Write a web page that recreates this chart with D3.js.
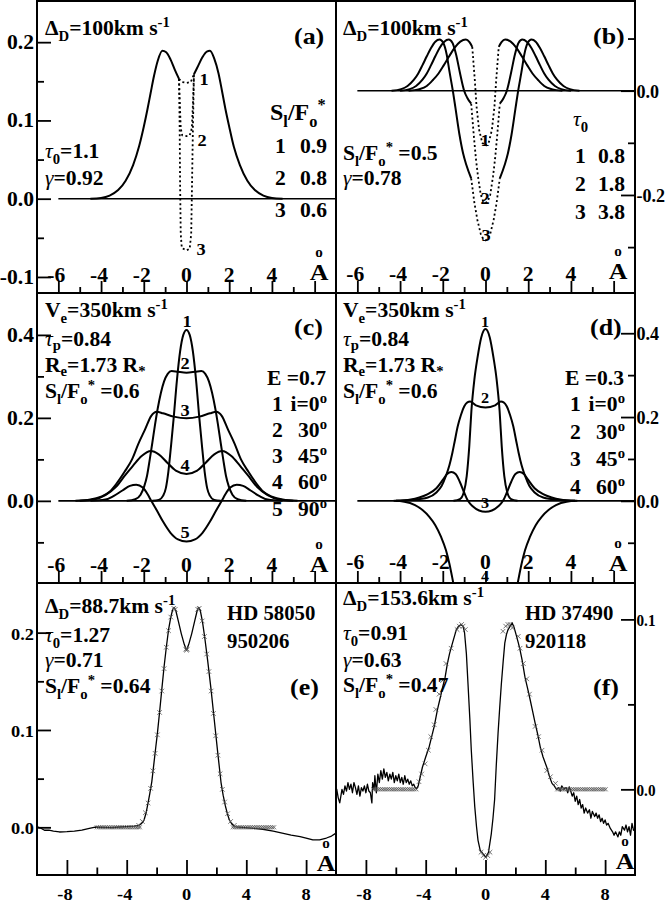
<!DOCTYPE html>
<html>
<head>
<meta charset="utf-8">
<script src="https://cdn.jsdelivr.net/npm/d3@7"></script>
<style>
  body { margin: 0; background: #fff; }
  svg { display: block; }
</style>
</head>
<body>
<div id="chart"></div>
<script>
// ---- data ----
// x ticks, top two rows (Angstrom, -7..7) and bottom row (-10..10)
var xMajorTop = [-6, -4, -2, 0, 2, 4, 6];
var xMinorTop = [-5, -3, -1, 1, 3, 5];
var xLabelsTop = ["-6", "-4", "-2", "0", "2", "4", ""];
var xMajorBot = [-8, -4, 0, 4, 8];
var xMinorBot = [-6, -2, 2, 6];
var xLabelsBot = ["-8", "-4", "0", "4", "8"];

// y ticks per panel
var aYMajor = [-0.1, 0, 0.1, 0.2], aYMinor = [-0.05, 0.05, 0.15], aYLabels = ["-0.1", "0.0", "0.1", "0.2"];
var bYMajor = [-0.2, 0], bYMinor = [-0.3, -0.1, 0.1], bYLabels = ["-0.2", "0.0"];
var cYMajor = [0, 0.2, 0.4], cYMinor = [-0.1, 0.1, 0.3], cYLabels = ["0.0", "0.2", "0.4"];
var eYMajor = [0, 0.1, 0.2], eYMinor = [0.05, 0.15], eYLabels = ["0.0", "0.1", "0.2"];
var fYMajor = [0, 0.1], fYMinor = [0.05], fYLabels = ["0.0", "0.1"];

// (a) S_l/F_o* = 0.9, 0.8, 0.6 : common wings (solid) + centres (dotted)
var aWingL = [[-4.5,0],[-4.0,0.001],[-3.6,0.004],[-3.2,0.011],[-2.85,0.023],[-2.5,0.043],[-2.22,0.067],[-2.0,0.092],[-1.83,0.114],[-1.68,0.135],[-1.52,0.157],[-1.35,0.176],[-1.13,0.189],[-0.95,0.187],[-0.75,0.178],[-0.55,0.165],[-0.35,0.153]];
var aWingR = [[0.35,0.159],[0.55,0.17],[0.75,0.181],[0.95,0.188],[1.1,0.189],[1.3,0.179],[1.5,0.16],[1.66,0.138],[1.82,0.115],[2.0,0.092],[2.22,0.066],[2.5,0.043],[2.85,0.023],[3.2,0.011],[3.6,0.004],[4.0,0.001],[4.5,0]];
var aCore1 = [[-0.35,0.153],[-0.2,0.149],[0,0.148],[0.2,0.149],[0.35,0.159]];
var aCore2 = [[-0.35,0.153],[-0.31,0.12],[-0.27,0.09],[-0.2,0.081],[0,0.08],[0.15,0.081],[0.25,0.09],[0.3,0.12],[0.35,0.159]];
var aCore3 = [[-0.35,0.153],[-0.32,0.09],[-0.3,0.02],[-0.27,-0.045],[-0.22,-0.063],[0,-0.066],[0.15,-0.064],[0.22,-0.045],[0.26,0.02],[0.3,0.09],[0.35,0.159]];

// (b) tau0 = 0.8, 1.8, 3.8
var b1L = [[-3.6,0],[-3.1,0.003],[-2.75,0.009],[-2.45,0.021],[-2.2,0.033],[-1.95,0.049],[-1.7,0.066],[-1.45,0.082],[-1.18,0.094],[-0.92,0.098],[-0.75,0.093],[-0.62,0.084]];
var b1R = [[0.62,0.084],[0.75,0.093],[0.92,0.098],[1.18,0.094],[1.45,0.082],[1.7,0.066],[1.95,0.049],[2.2,0.033],[2.45,0.021],[2.75,0.009],[3.1,0.003],[3.6,0]];
var b1C = [[-0.62,0.084],[-0.5,0.02],[-0.42,-0.03],[-0.3,-0.075],[-0.15,-0.1],[0,-0.106],[0.15,-0.1],[0.3,-0.075],[0.42,-0.03],[0.5,0.02],[0.62,0.084]];
var b2L = [[-4.0,0],[-3.55,0.003],[-3.25,0.009],[-2.95,0.021],[-2.75,0.033],[-2.55,0.049],[-2.35,0.066],[-2.15,0.082],[-1.93,0.094],[-1.72,0.098],[-1.55,0.092],[-1.38,0.07],[-1.2,0.035],[-1.0,0.0],[-0.85,-0.014],[-0.67,-0.025]];
var b2R = [[0.67,-0.025],[0.85,-0.014],[1.0,0.0],[1.2,0.035],[1.38,0.07],[1.55,0.092],[1.72,0.098],[1.93,0.094],[2.15,0.082],[2.35,0.066],[2.55,0.049],[2.75,0.033],[2.95,0.021],[3.25,0.009],[3.55,0.003],[4.0,0]];
var b2C = [[-0.67,-0.025],[-0.55,-0.085],[-0.45,-0.13],[-0.35,-0.165],[-0.22,-0.2],[-0.1,-0.213],[0,-0.215],[0.1,-0.213],[0.22,-0.2],[0.35,-0.165],[0.45,-0.13],[0.55,-0.085],[0.67,-0.025]];
var b3L = [[-4.4,0],[-3.95,0.003],[-3.65,0.009],[-3.35,0.021],[-3.15,0.033],[-2.95,0.049],[-2.75,0.066],[-2.55,0.082],[-2.35,0.094],[-2.15,0.098],[-1.98,0.092],[-1.82,0.07],[-1.68,0.035],[-1.53,0.0],[-1.4,-0.035],[-1.22,-0.084],[-1.05,-0.12],[-0.9,-0.142],[-0.67,-0.168]];
var b3R = [[0.67,-0.168],[0.9,-0.142],[1.05,-0.12],[1.22,-0.084],[1.4,-0.035],[1.53,0.0],[1.68,0.035],[1.82,0.07],[1.98,0.092],[2.15,0.098],[2.35,0.094],[2.55,0.082],[2.75,0.066],[2.95,0.049],[3.15,0.033],[3.35,0.021],[3.65,0.009],[3.95,0.003],[4.4,0]];
var b3C = [[-0.67,-0.168],[-0.52,-0.215],[-0.38,-0.248],[-0.22,-0.275],[-0.1,-0.285],[0,-0.287],[0.1,-0.285],[0.22,-0.275],[0.38,-0.248],[0.52,-0.215],[0.67,-0.168]];

// (c) E = 0.7, i = 0, 30, 45, 60, 90 deg
var c1 = [[-1.6,0],[-1.3,0.002],[-1.1,0.012],[-0.97,0.03],[-0.85,0.07],[-0.72,0.135],[-0.6,0.2],[-0.45,0.29],[-0.3,0.36],[-0.15,0.4],[0,0.412],[0.15,0.4],[0.3,0.36],[0.45,0.29],[0.6,0.2],[0.72,0.135],[0.85,0.07],[0.97,0.03],[1.1,0.012],[1.3,0.002],[1.6,0]];
var c2 = [[-2.8,0],[-2.4,0.004],[-2.15,0.015],[-1.98,0.035],[-1.85,0.06],[-1.72,0.1],[-1.6,0.14],[-1.47,0.185],[-1.35,0.222],[-1.2,0.26],[-1.05,0.288],[-0.88,0.306],[-0.7,0.313],[-0.4,0.311],[0,0.309],[0.4,0.311],[0.7,0.313],[0.88,0.306],[1.05,0.288],[1.2,0.26],[1.35,0.222],[1.47,0.185],[1.6,0.14],[1.72,0.1],[1.85,0.06],[1.98,0.035],[2.15,0.015],[2.4,0.004],[2.8,0]];
var c3 = [[-5.2,0],[-4.5,0.003],[-4.0,0.01],[-3.6,0.022],[-3.3,0.04],[-2.9,0.07],[-2.55,0.1],[-2.25,0.138],[-1.95,0.171],[-1.65,0.205],[-1.4,0.215],[-1.1,0.211],[-0.6,0.203],[0,0.199],[0.6,0.203],[1.1,0.211],[1.4,0.215],[1.65,0.205],[1.95,0.171],[2.25,0.138],[2.55,0.1],[2.9,0.07],[3.3,0.04],[3.6,0.022],[4.0,0.01],[4.5,0.003],[5.2,0]];
var c4 = [[-5.0,0],[-4.3,0.004],[-3.8,0.014],[-3.3,0.034],[-2.9,0.06],[-2.5,0.085],[-2.1,0.108],[-1.67,0.12],[-1.3,0.112],[-0.9,0.092],[-0.5,0.073],[0,0.065],[0.5,0.073],[0.9,0.092],[1.3,0.112],[1.67,0.12],[2.1,0.108],[2.5,0.085],[2.9,0.06],[3.3,0.034],[3.8,0.014],[4.3,0.004],[5.0,0]];
var c5 = [[-4.5,0],[-3.8,0.003],[-3.4,0.012],[-3.0,0.025],[-2.65,0.036],[-2.35,0.039],[-2.05,0.032],[-1.82,0.016],[-1.65,0],[-1.4,-0.022],[-1.1,-0.05],[-0.75,-0.077],[-0.4,-0.093],[0,-0.098],[0.4,-0.093],[0.75,-0.077],[1.1,-0.05],[1.4,-0.022],[1.65,0],[1.82,0.016],[2.05,0.032],[2.35,0.039],[2.65,0.036],[3.0,0.025],[3.4,0.012],[3.8,0.003],[4.5,0]];

// (d) E = 0.3, i = 0, 30, 45, 60 deg
var d1 = [[-1.5,0],[-1.2,0.004],[-1.02,0.02],[-0.88,0.059],[-0.76,0.13],[-0.66,0.215],[-0.52,0.29],[-0.38,0.34],[-0.2,0.39],[0,0.41],[0.2,0.39],[0.38,0.34],[0.52,0.29],[0.66,0.215],[0.76,0.13],[0.88,0.059],[1.02,0.02],[1.2,0.004],[1.5,0]];
var d2 = [[-4.2,0],[-3.5,0.002],[-2.7,0.008],[-2.3,0.02],[-2.05,0.036],[-1.85,0.06],[-1.69,0.085],[-1.55,0.115],[-1.45,0.14],[-1.3,0.178],[-1.15,0.205],[-1.0,0.225],[-0.85,0.235],[-0.72,0.237],[-0.45,0.228],[0,0.223],[0.45,0.228],[0.72,0.237],[0.85,0.235],[1.0,0.225],[1.15,0.205],[1.3,0.178],[1.45,0.14],[1.55,0.115],[1.69,0.085],[1.85,0.06],[2.05,0.036],[2.3,0.02],[2.7,0.008],[3.5,0.002],[4.2,0]];
var d3v = [[-4.2,0],[-3.5,0.003],[-3.1,0.008],[-2.7,0.016],[-2.3,0.03],[-2.0,0.05],[-1.8,0.064],[-1.6,0.069],[-1.4,0.064],[-1.2,0.045],[-1.0,0.02],[-0.82,0],[-0.6,-0.013],[-0.3,-0.023],[0,-0.026],[0.3,-0.023],[0.6,-0.013],[0.82,0],[1.0,0.02],[1.2,0.045],[1.4,0.064],[1.6,0.069],[1.8,0.064],[2.0,0.05],[2.3,0.03],[2.7,0.016],[3.1,0.008],[3.5,0.003],[4.2,0]];
var d4 = [[-4.3,0],[-3.8,-0.002],[-3.3,-0.01],[-2.95,-0.022],[-2.63,-0.038],[-2.35,-0.058],[-2.08,-0.086],[-1.85,-0.118],[-1.69,-0.15],[-1.55,-0.185],[-1.42,-0.22],[-1.2,-0.28],[-0.9,-0.33],[-0.5,-0.36],[0,-0.37],[0.5,-0.36],[0.9,-0.33],[1.2,-0.28],[1.42,-0.22],[1.55,-0.185],[1.69,-0.15],[1.85,-0.118],[2.08,-0.086],[2.35,-0.058],[2.63,-0.038],[2.95,-0.022],[3.3,-0.01],[3.8,-0.002],[4.3,0]];

// (e) HD 58050, observed (line) and model (crosses)
var eObs = [[-10.05,0.001],[-9.8,-0.0005],[-9.5,-0.003],[-9.2,-0.003],[-8.9,-0.004],[-8.5,-0.0048],[-8.0,-0.0045],[-7.5,-0.004],[-7.0,-0.003],[-6.5,-0.0012],[-6.1,0.0003],[-5.5,0.0],[-5.0,-0.0003],[-4.5,0.0003],[-4.0,0.0008],[-3.5,0.0012],[-3.2,0.002],[-3.0,0.004],[-2.84,0.0075],[-2.7,0.015],[-2.57,0.025],[-2.45,0.035],[-2.32,0.047],[-2.17,0.067],[-2.05,0.083],[-1.95,0.096],[-1.79,0.12],[-1.65,0.142],[-1.5,0.165],[-1.35,0.185],[-1.2,0.203],[-1.05,0.216],[-0.92,0.224],[-0.83,0.226],[-0.72,0.223],[-0.55,0.212],[-0.35,0.199],[-0.15,0.188],[0,0.182],[0.15,0.188],[0.35,0.199],[0.55,0.212],[0.72,0.223],[0.81,0.226],[0.92,0.223],[1.07,0.211],[1.22,0.195],[1.41,0.172],[1.64,0.142],[1.86,0.11],[2.08,0.078],[2.31,0.046],[2.45,0.033],[2.6,0.022],[2.75,0.013],[2.87,0.0075],[3.05,0.003],[3.3,0.0005],[3.7,0.0],[4.5,-0.001],[5.1,-0.002],[5.8,-0.004],[6.4,-0.006],[7.0,-0.008],[7.6,-0.0096],[8.0,-0.011],[8.45,-0.013],[8.9,-0.013],[9.36,-0.011],[9.7,-0.009],[10.0,-0.006]];
var eModel = [[-3.2,0.002],[-2.95,0.006],[-2.75,0.015],[-2.57,0.025],[-2.4,0.04],[-2.25,0.058],[-2.1,0.076],[-1.95,0.095],[-1.8,0.118],[-1.65,0.14],[-1.5,0.163],[-1.35,0.185],[-1.2,0.202],[-1.05,0.216],[-0.85,0.225],[-0.75,0.224],[-0.05,0.183],[0,0.182],[0.05,0.183],[0.75,0.224],[0.85,0.225],[1.05,0.212],[1.2,0.196],[1.35,0.178],[1.5,0.16],[1.65,0.14],[1.8,0.117],[1.95,0.094],[2.1,0.074],[2.25,0.055],[2.4,0.039],[2.55,0.026],[2.75,0.014],[2.95,0.006],[3.2,0.002]];
var eBandLevel = 0.0;
var eBandX = [-6.0,-5.88,-5.76,-5.64,-5.52,-5.4,-5.28,-5.16,-5.04,-4.92,-4.8,-4.68,-4.56,-4.44,-4.32,-4.2,-4.08,-3.96,-3.84,-3.72,-3.6,-3.48,-3.36,-3.24,-3.12,
              3.1,3.22,3.34,3.46,3.58,3.7,3.82,3.94,4.06,4.18,4.3,4.42,4.54,4.66,4.78,4.9,5.02,5.14,5.26,5.38,5.5,5.62,5.74,5.86];

// (f) HD 37490
var fObs = [[-10.1,-0.002],[-9.95,0.0],[-9.85,-0.005],[-9.75,-0.008],[-9.6,0.0],[-9.5,-0.003],[-9.4,0.002],[-9.3,-0.001],[-9.2,0.004],[-9.1,0.0],[-9.0,0.003],[-8.9,-0.002],[-8.8,0.004],[-8.7,0.001],[-8.6,-0.003],[-8.5,0.002],[-8.4,-0.004],[-8.3,0.001],[-8.2,-0.001],[-8.1,0.002],[-8.0,-0.002],[-7.9,0.003],[-7.8,-0.001],[-7.7,-0.002],[-7.6,-0.008],[-7.55,0.004],[-7.45,0.0],[-7.4,0.008],[-7.3,-0.002],[-7.2,0.009],[-7.1,0.004],[-7.0,0.011],[-6.9,0.006],[-6.8,0.012],[-6.7,0.007],[-6.6,0.01],[-6.5,0.005],[-6.4,0.009],[-6.3,0.006],[-6.2,0.01],[-6.1,0.004],[-6.0,0.008],[-5.9,0.005],[-5.8,0.009],[-5.7,0.004],[-5.6,0.007],[-5.5,0.003],[-5.4,0.008],[-5.3,0.004],[-5.2,0.006],[-5.1,0.003],[-5.0,0.005],[-4.9,0.002],[-4.8,0.003],[-4.7,0.001],[-4.6,0.0005],[-4.5,0.002],[-4.35,0.008],[-4.22,0.013],[-4.0,0.019],[-3.77,0.025],[-3.6,0.031],[-3.43,0.037],[-3.21,0.047],[-3.05,0.053],[-2.87,0.06],[-2.7,0.066],[-2.55,0.074],[-2.4,0.08],[-2.21,0.086],[-1.95,0.094],[-1.8,0.096],[-1.63,0.097],[-1.5,0.096],[-1.4,0.092],[-1.28,0.08],[-1.17,0.062],[-1.05,0.042],[-0.95,0.023],[-0.83,0.005],[-0.72,-0.01],[-0.6,-0.022],[-0.5,-0.03],[-0.35,-0.036],[-0.16,-0.038],[0.04,-0.04],[0.2,-0.037],[0.39,-0.026],[0.5,-0.017],[0.61,-0.006],[0.72,0.014],[0.84,0.033],[0.95,0.048],[1.06,0.062],[1.18,0.075],[1.29,0.086],[1.4,0.091],[1.51,0.094],[1.65,0.096],[1.78,0.098],[1.92,0.095],[2.08,0.09],[2.2,0.086],[2.31,0.082],[2.45,0.076],[2.64,0.066],[2.8,0.06],[2.98,0.053],[3.15,0.046],[3.32,0.039],[3.5,0.032],[3.66,0.025],[3.85,0.019],[4.1,0.013],[4.3,0.007],[4.45,0.0035],[4.6,0.002],[4.75,0.0],[4.9,0.001],[5.0,-0.001],[5.1,0.002],[5.25,0.0],[5.4,0.001],[5.5,-0.002],[5.6,0.0015],[5.7,-0.001],[5.8,-0.004],[5.9,-0.002],[6.0,-0.007],[6.1,-0.004],[6.2,-0.009],[6.3,-0.006],[6.4,-0.011],[6.5,-0.009],[6.6,-0.014],[6.7,-0.011],[6.83,-0.014],[6.95,-0.012],[7.05,-0.017],[7.15,-0.013],[7.3,-0.016],[7.4,-0.014],[7.5,-0.017],[7.6,-0.015],[7.7,-0.019],[7.8,-0.017],[7.9,-0.02],[8.0,-0.018],[8.1,-0.021],[8.2,-0.02],[8.35,-0.023],[8.5,-0.025],[8.6,-0.027],[8.7,-0.025],[8.86,-0.028],[8.95,-0.025],[9.05,-0.027],[9.15,-0.022],[9.3,-0.024],[9.4,-0.021],[9.5,-0.025],[9.6,-0.022],[9.7,-0.027],[9.8,-0.02],[9.9,-0.024],[10.1,-0.025]];
var fModel = [[-4.45,0.0045],[-4.27,0.009],[-4.04,0.015],[-3.82,0.023],[-3.66,0.031],[-3.43,0.038],[-3.32,0.047],[-3.1,0.056],[-2.87,0.064],[-2.64,0.074],[-2.3,0.083],[-1.9,0.094],[-1.75,0.096],[-1.6,0.097],[-1.5,0.096],[-1.35,0.094],[-0.3,-0.037],[-0.15,-0.039],[0,-0.04],[0.15,-0.039],[0.3,-0.037],[1.17,0.093],[1.35,0.096],[1.5,0.097],[1.65,0.097],[1.8,0.095],[2.19,0.09],[2.31,0.083],[2.53,0.074],[2.76,0.065],[2.94,0.056],[3.32,0.037],[3.55,0.031],[3.78,0.023],[4.1,0.011],[4.34,0.0074],[4.68,0.0035]];
var fBandLevel = 0.0;
var fBandX = [-7.5,-7.38,-7.26,-7.14,-7.02,-6.9,-6.78,-6.66,-6.54,-6.42,-6.3,-6.18,-6.06,-5.94,-5.82,-5.7,-5.58,-5.46,-5.34,-5.22,-5.1,-4.98,-4.86,-4.74,-4.62,
              4.8,4.92,5.04,5.16,5.28,5.4,5.52,5.64,5.76,5.88,6.0,6.12,6.24,6.36,6.48,6.6,6.72,6.84,6.96,7.08,7.2,7.32,7.44,7.56,7.68,7.8,7.92,8.04];

// ---- drawing ----
var W = 666, H = 909;
var SX = 1.08;
var FONT = "'Liberation Serif','Times New Roman',serif";

var svg = d3.select("#chart").append("svg").attr("width", W).attr("height", H);
svg.append("rect").attr("width", W).attr("height", H).attr("fill", "#fff");

// rich text: parts are strings or {t, sub, sup, it, lift}
function rich(g, x, y, parts, o) {
    o = o || {};
    var size = o.size || 20;
    var t = g.append("text")
        .attr("transform", "translate(" + x + "," + y + ") scale(" + (o.sx || SX) + ",1)")
        .attr("font-family", FONT)
        .attr("font-weight", "bold")
        .attr("font-size", size)
        .attr("text-anchor", o.anchor || "start")
        .attr("fill", "#000");
    if (typeof parts === "string") parts = [parts];
    var cur = 0;
    parts.forEach(function(p) {
        if (typeof p === "string") p = {t: p};
        var shift = p.sub ? (p.lift || 0.28) : (p.sup ? -0.42 : 0);
        var ts = t.append("tspan").text(p.t).attr("dy", ((shift - cur) * size).toFixed(2));
        if (p.sub || p.sup) ts.attr("font-size", size * 0.68);
        if (p.it) ts.attr("font-style", "italic").attr("font-weight", "normal");
        cur = shift;
    });
    return t;
}

function makePanel(p) {
    var g = svg.append("g");
    var x = d3.scaleLinear().domain(p.xd).range([p.x0, p.x1]);
    var y = d3.scaleLinear().domain(p.yd).range([p.y1, p.y0]);
    var cid = "clip-" + p.id;
    svg.append("clipPath").attr("id", cid).append("rect")
        .attr("x", p.x0).attr("y", p.y0).attr("width", p.x1 - p.x0).attr("height", p.y1 - p.y0);
    var plot = g.append("g").attr("clip-path", "url(#" + cid + ")");

    // y ticks, pointing inwards
    var yx = p.side === "left" ? p.x0 : p.x1;
    g.append("g").attr("transform", "translate(" + yx + ",0)")
        .call((p.side === "left" ? d3.axisRight(y) : d3.axisLeft(y)).tickValues(p.yMaj).tickSize(14).tickFormat(""));
    g.append("g").attr("transform", "translate(" + yx + ",0)")
        .call((p.side === "left" ? d3.axisRight(y) : d3.axisLeft(y)).tickValues(p.yMin).tickSize(7).tickFormat(""));
    p.yMaj.forEach(function(v, i) {
        if (p.side === "left") rich(g, p.x0 - 3, y(v) + 7, p.yLab[i], {size: p.tickSize, anchor: "end"});
        else rich(g, p.x1 + 1.5, y(v) + 7, p.yLab[i], {size: p.tickSize - 1, sx: 0.95});
    });

    // x ticks, pointing upwards from the bottom edge
    g.append("g").attr("transform", "translate(0," + p.y1 + ")")
        .call(d3.axisTop(x).tickValues(p.xMaj).tickSize(p.xTickLen).tickFormat(""));
    g.append("g").attr("transform", "translate(0," + p.y1 + ")")
        .call(d3.axisTop(x).tickValues(p.xMin).tickSize(p.xTickLen / 2).tickFormat(""));
    p.xMaj.forEach(function(v, i) {
        if (!p.xLab[i]) return;
        rich(g, x(v) + (p.xLab[i][0] === "-" ? -2 : 0), p.xLabY, p.xLab[i], {size: p.tickSize, anchor: "middle"});
    });

    g.selectAll(".domain").remove();
    g.selectAll(".tick line").attr("stroke", "#000").attr("stroke-width", 1.8);

    g.append("rect").attr("x", p.x0).attr("y", p.y0)
        .attr("width", p.x1 - p.x0).attr("height", p.y1 - p.y0)
        .attr("fill", "none").attr("stroke", "#000").attr("stroke-width", 2);

    // Angstrom sign at the end of the x axis
    rich(g, p.aX, p.aY, "A", {size: 24, anchor: "middle"});
    rich(g, p.aX, p.aY - 23, "o", {size: 14, anchor: "middle"});

    if (p.zero) {
        plot.append("line").attr("x1", x(-6)).attr("x2", p.x1).attr("y1", y(0)).attr("y2", y(0))
            .attr("stroke", "#000").attr("stroke-width", 1.6);
    }
    return {g: g, plot: plot, x: x, y: y};
}

function curve(P, data, o) {
    o = o || {};
    var line = d3.line().x(function(d) { return P.x(d[0]); }).y(function(d) { return P.y(d[1]); })
        .curve(o.linear ? d3.curveLinear : d3.curveMonotoneX);
    P.plot.append("path").attr("d", line(data)).attr("fill", "none")
        .attr("stroke", "#000").attr("stroke-width", o.w || 2)
        .attr("stroke-dasharray", o.dash || null)
        .attr("stroke-linejoin", "round");
}

function crosses(P, pts, s) {
    P.plot.append("g").selectAll("path").data(pts).enter().append("path")
        .attr("d", "M" + (-s) + "," + (-s) + "L" + s + "," + s + "M" + (-s) + "," + s + "L" + s + "," + (-s))
        .attr("transform", function(d) { return "translate(" + P.x(d[0]) + "," + P.y(d[1]) + ")"; })
        .attr("stroke", "#555").attr("stroke-width", 0.8).attr("fill", "none");
}

var rowTop = {xd: [-7, 7], xMaj: xMajorTop, xMin: xMinorTop, xLab: xLabelsTop, xTickLen: 12, tickSize: 20, zero: true};
var rowBot = {xd: [-10, 10], xMaj: xMajorBot, xMin: xMinorBot, xLab: xLabelsBot, xTickLen: 15, tickSize: 17, zero: false};

var PA = makePanel(Object.assign({}, rowTop, {id: "a", x0: 37, x1: 336, y0: 1, y1: 293, yd: [-0.1205, 0.2526], side: "left",
    yMaj: aYMajor, yMin: aYMinor, yLab: aYLabels, xLabY: 282, aX: 319, aY: 280}));
var PB = makePanel(Object.assign({}, rowTop, {id: "b", x0: 336, x1: 635, y0: 1, y1: 293, yd: [-0.388, 0.172], side: "right",
    yMaj: bYMajor, yMin: bYMinor, yLab: bYLabels, xLabY: 281, aX: 618, aY: 279}));
var PC = makePanel(Object.assign({}, rowTop, {id: "c", x0: 37, x1: 336, y0: 293, y1: 583, yd: [-0.198, 0.501], side: "left",
    yMaj: cYMajor, yMin: cYMinor, yLab: cYLabels, xLabY: 572, aX: 319, aY: 572}));
var PD = makePanel(Object.assign({}, rowTop, {id: "d", x0: 336, x1: 635, y0: 293, y1: 583, yd: [-0.196, 0.496], side: "right",
    yMaj: cYMajor, yMin: cYMinor, yLab: cYLabels, xLabY: 569, aX: 618, aY: 571}));
var PE = makePanel(Object.assign({}, rowBot, {id: "e", x0: 37, x1: 336, y0: 583, y1: 875, yd: [-0.049, 0.251], side: "left",
    yMaj: eYMajor, yMin: eYMinor, yLab: eYLabels, xLabY: 900, aX: 326, aY: 871}));
var PF = makePanel(Object.assign({}, rowBot, {id: "f", x0: 336, x1: 635, y0: 583, y1: 875, yd: [-0.0504, 0.1214], side: "right",
    yMaj: fYMajor, yMin: fYMinor, yLab: fYLabels, xLabY: 900, aX: 625, aY: 869}));

var DOT = "2,2.6";

// (a)
curve(PA, aWingL); curve(PA, aWingR);
[aCore1, aCore2, aCore3].forEach(function(c) { curve(PA, c, {linear: true, dash: DOT, w: 1.8}); });
rich(PA.g, 45, 35, ["Δ", {t: "D", sub: true}, "=100km s", {t: "-1", sup: true}]);
rich(PA.g, 294, 44, "(a)", {size: 24});
rich(PA.g, 270, 120, ["S", {t: "l", sub: true}, "/F", {t: "o", sub: true}, {t: "*", sup: true}], {size: 24, sx: 1.0});
[["1", "0.9", 153], ["2", "0.8", 185], ["3", "0.6", 217]].forEach(function(r) {
    rich(PA.g, 275, r[2], r[0]); rich(PA.g, 327, r[2], r[1], {anchor: "end"});
});
rich(PA.g, 45, 158, [{t: "τ", it: true}, {t: "0", sub: true}, "=1.1"]);
rich(PA.g, 45, 185, [{t: "γ", it: true}, "=0.92"]);
rich(PA.g, 204, 85, "1", {size: 17, anchor: "middle"});
rich(PA.g, 202, 146, "2", {size: 17, anchor: "middle"});
rich(PA.g, 201, 255, "3", {size: 17, anchor: "middle"});

// (b)
[b1L, b1R, b2L, b2R, b3L, b3R].forEach(function(c) { curve(PB, c); });
[b1C, b2C, b3C].forEach(function(c) { curve(PB, c, {linear: true, dash: DOT, w: 1.8}); });
rich(PB.g, 343, 35, ["Δ", {t: "D", sub: true}, "=100km s", {t: "-1", sup: true}]);
rich(PB.g, 593, 44, "(b)", {size: 24});
rich(PB.g, 573, 126, [{t: "τ", it: true}, {t: "0", sub: true}]);
[["1", "0.8", 163], ["2", "1.8", 191], ["3", "3.8", 219]].forEach(function(r) {
    rich(PB.g, 575, r[2], r[0]); rich(PB.g, 625, r[2], r[1], {anchor: "end"});
});
rich(PB.g, 343, 160, ["S", {t: "l", sub: true}, "/F", {t: "o", sub: true}, {t: "*", sup: true}, " =0.5"]);
rich(PB.g, 343, 185, [{t: "γ", it: true}, "=0.78"]);
rich(PB.g, 485, 146, "1", {size: 17, anchor: "middle"});
rich(PB.g, 485, 204, "2", {size: 17, anchor: "middle"});
rich(PB.g, 486, 241, "3", {size: 17, anchor: "middle"});

// (c)
[c1, c2, c3, c4, c5].forEach(function(c) { curve(PC, c); });
function diskText(P, x0) {
    rich(P.g, x0, 317, ["V", {t: "e", sub: true}, "=350km s", {t: "-1", sup: true}]);
    rich(P.g, x0, 346, [{t: "τ", it: true}, {t: "p", sub: true, lift: 0.2}, "=0.84"]);
    rich(P.g, x0, 372, ["R", {t: "e", sub: true, lift: 0.18}, "=1.73 R", {t: "*", sub: true, lift: 0.18}]);
    rich(P.g, x0, 398, ["S", {t: "l", sub: true}, "/F", {t: "o", sub: true}, {t: "*", sup: true}, " =0.6"]);
}
diskText(PC, 45);
rich(PC.g, 294, 335, "(c)", {size: 24});
rich(PC.g, 326, 385, "E =0.7", {anchor: "end"});
[["1", "i=0", 411], ["2", "30", 437], ["3", "45", 463], ["4", "60", 489], ["5", "90", 516]].forEach(function(r) {
    rich(PC.g, 272, r[2], r[0]); rich(PC.g, 327, r[2], [r[1], {t: "o", sup: true}], {anchor: "end"});
});
[["1", 187, 327], ["2", 185, 369], ["3", 185, 416], ["4", 185, 471], ["5", 185, 538]].forEach(function(r) {
    rich(PC.g, r[1], r[2], r[0], {size: 17, anchor: "middle"});
});

// (d)
[d1, d2, d3v, d4].forEach(function(c) { curve(PD, c); });
diskText(PD, 343);
rich(PD.g, 590, 335, "(d)", {size: 24});
rich(PD.g, 624, 385, "E =0.3", {anchor: "end"});
[["1", "i=0", 411], ["2", "30", 439], ["3", "45", 466], ["4", "60", 494]].forEach(function(r) {
    rich(PD.g, 570, r[2], r[0]); rich(PD.g, 625, r[2], [r[1], {t: "o", sup: true}], {anchor: "end"});
});
[["1", 485, 327], ["2", 485, 403], ["3", 485, 508], ["4", 485, 581]].forEach(function(r) {
    rich(PD.g, r[1], r[2], r[0], {size: 15, anchor: "middle"});
});

// (e)
curve(PE, eObs, {linear: true, w: 1.3});
crosses(PE, eModel, 2.3);
crosses(PE, eBandX.map(function(v) { return [v, eBandLevel]; }), 2.0);
rich(PE.g, 45, 613, ["Δ", {t: "D", sub: true}, "=88.7km s", {t: "-1", sup: true}]);
rich(PE.g, 45, 642, [{t: "τ", it: true}, {t: "0", sub: true}, "=1.27"]);
rich(PE.g, 45, 667, [{t: "γ", it: true}, "=0.71"]);
rich(PE.g, 45, 693, ["S", {t: "l", sub: true}, "/F", {t: "o", sub: true}, {t: "*", sup: true}, " =0.64"]);
rich(PE.g, 227, 620, "HD 58050", {sx: 1.04});
rich(PE.g, 227, 648, "950206", {sx: 1.04});
rich(PE.g, 290, 695, "(e)", {size: 24});

// (f)
curve(PF, fObs, {linear: true, w: 1.3});
crosses(PF, fModel, 2.3);
crosses(PF, fBandX.map(function(v) { return [v, fBandLevel]; }), 2.0);
rich(PF.g, 343, 605, ["Δ", {t: "D", sub: true}, "=153.6km s", {t: "-1", sup: true}]);
rich(PF.g, 343, 640, [{t: "τ", it: true}, {t: "0", sub: true}, "=0.91"]);
rich(PF.g, 343, 667, [{t: "γ", it: true}, "=0.63"]);
rich(PF.g, 343, 692, ["S", {t: "l", sub: true}, "/F", {t: "o", sub: true}, {t: "*", sup: true}, " =0.47"]);
rich(PF.g, 525, 620, "HD 37490", {sx: 1.04});
rich(PF.g, 525, 648, "920118", {sx: 1.04});
rich(PF.g, 593, 695, "(f)", {size: 24});
</script>
</body>
</html>
